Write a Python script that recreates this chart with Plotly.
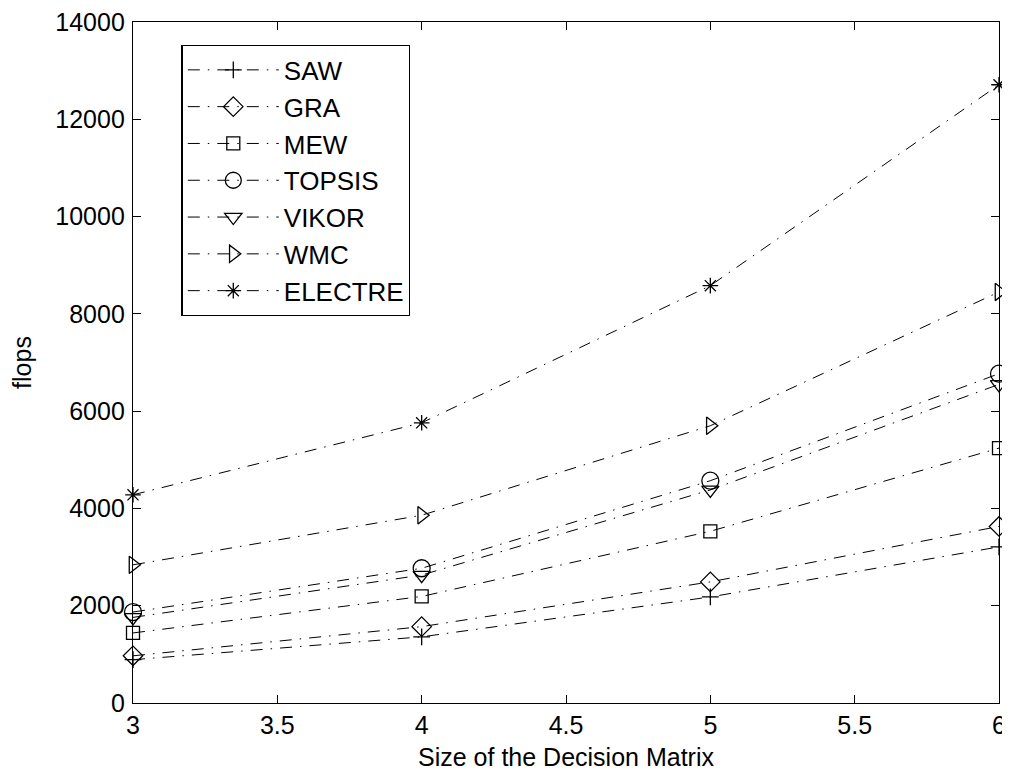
import plotly.graph_objects as go

sizes = [3, 4, 5, 6]
saw = [890, 1360, 2180, 3210]
gra = [970, 1570, 2490, 3630]
mew = [1440, 2190, 3530, 5240]
topsis = [1870, 2770, 4570, 6770]
vikor = [1760, 2630, 4380, 6550]
wmc = [2840, 3860, 5700, 8450]
electre = [4280, 5760, 8580, 12710]

series = [
    ("SAW", saw, "cross-thin-open", 12),
    ("GRA", gra, "diamond-open", 15),
    ("MEW", mew, "square-open", 13),
    ("TOPSIS", topsis, "circle-open", 17),
    ("VIKOR", vikor, "triangle-down-open", 15),
    ("WMC", wmc, "triangle-right-open", 15),
    ("ELECTRE", electre, "asterisk-open", 13),
]

font_family = "Liberation Sans, Arial, Helvetica, sans-serif"
fs = 25
dash = "12px,8px,1.5px,8px"

fig = go.Figure()
for i, (name, vals, sym, sz) in enumerate(series):
    fig.add_trace(go.Scatter(
        x=sizes, y=vals, name=name, mode="lines+markers",
        cliponaxis=False,
        line=dict(color="black", width=1, dash=dash),
        marker=dict(symbol=sym, size=sz, color="black", line=dict(width=1.3, color="black")),
    ))

axis_common = dict(
    showline=True, linecolor="black", linewidth=1.3, mirror="ticks",
    ticks="inside", ticklen=8, tickcolor="black", tickwidth=1.3,
    showgrid=False, zeroline=False,
    ticklabeloverflow="allow",
    tickfont=dict(family=font_family, size=fs, color="black"),
)

# page body has an 8px margin; figure is sized/margined so the plot area
# lands at x 133..999, y 22..703 of the 1010x771 window
fig.update_layout(
    width=1002, height=763,
    margin=dict(l=125, r=11, t=14, b=68),
    paper_bgcolor="white", plot_bgcolor="white",
    font=dict(family=font_family, color="black"),
    xaxis=dict(range=[3, 6], dtick=0.5, tick0=3, automargin=False,
               title=dict(text="Size of the Decision Matrix", font=dict(size=fs)),
               **axis_common),
    yaxis=dict(range=[0, 14000], dtick=2000, tick0=0, tickformat="d",
               automargin="left",
               title=dict(text="flops", font=dict(size=fs), standoff=18),
               ticklabelstandoff=2,
               **axis_common),
    legend=dict(
        x=0.056, y=0.966, xanchor="left", yanchor="top",
        bordercolor="black", borderwidth=1.3, bgcolor="white",
        font=dict(family=font_family, size=fs + 1, color="black"),
        itemwidth=91,
    ),
    showlegend=True,
)

fig.write_html("out.html")
